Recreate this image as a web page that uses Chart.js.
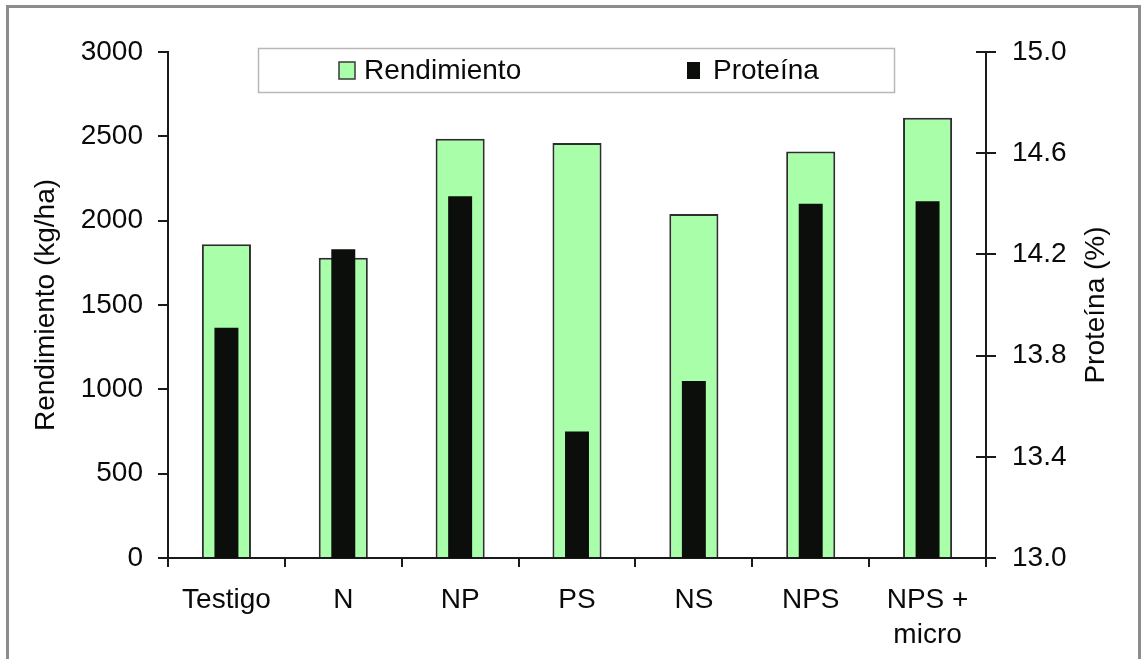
<!DOCTYPE html>
<html>
<head>
<meta charset="utf-8">
<script src="https://cdn.jsdelivr.net/npm/chart.js@4/dist/chart.umd.min.js"></script>
<style>
  html, body { margin: 0; padding: 0; background: #fff; }
  #wrap { position: relative; width: 1146px; height: 659px; overflow: hidden; }
  #frame { position: absolute; left: 6px; top: 5px; width: 1135px; height: 720px;
           border: 3px solid #8c8c8c; box-sizing: border-box; }
  #c { position: absolute; left: 0; top: 0; }
</style>
</head>
<body>
<div id="wrap">
  <div id="frame"></div>
  <canvas id="c" width="1146" height="659"></canvas>
</div>
<script>
// Treatments and measured results
const categories = ['Testigo', 'N', 'NP', 'PS', 'NS', 'NPS', ['NPS +', 'micro']];
const rendimiento = [1860, 1780, 2485, 2460, 2040, 2410, 2610];   // kg/ha
const proteina = [13.91, 14.22, 14.43, 13.50, 13.70, 14.40, 14.41]; // %

// Axis ranges and labels
const yieldRange = [0, 3000];
const yieldStep = 500;
const proteinRange = [13.0, 15.0];
const proteinStep = 0.4;
const yieldTitle = 'Rendimiento (kg/ha)';
const proteinTitle = 'Proteína (%)';
const seriesNames = ['Rendimiento', 'Proteína'];

const FONT = '"Liberation Sans", Arial, Helvetica, sans-serif';
const INK = '#0a0a0a';
const AXIS = '#1a1a1a';
const GREEN = '#a9ffa9';
const BLACK = '#0b0e0b';

// Right axis: ticks cross the axis line, title reads bottom-to-top
const rightAxisExtras = {
  id: 'rightAxisExtras',
  afterDraw(chart) {
    const ctx = chart.ctx;
    const s = chart.scales.y1;
    const x = s.left;
    ctx.save();
    ctx.strokeStyle = AXIS;
    ctx.lineWidth = 2;
    s.ticks.forEach(t => {
      const y = Math.round(s.getPixelForValue(t.value));
      ctx.beginPath();
      ctx.moveTo(x - 10, y);
      ctx.lineTo(x, y);
      ctx.stroke();
    });
    ctx.translate(1096, (s.top + s.bottom) / 2);
    ctx.rotate(-Math.PI / 2);
    ctx.font = '28px ' + FONT;
    ctx.fillStyle = INK;
    ctx.textAlign = 'center';
    ctx.textBaseline = 'middle';
    ctx.fillText(proteinTitle, 0, 0);
    ctx.restore();
  }
};

// Boxed legend floating over the top of the plot
const boxedLegend = {
  id: 'boxedLegend',
  afterDraw(chart) {
    const ctx = chart.ctx;
    ctx.save();
    ctx.strokeStyle = '#b8b8b8';
    ctx.lineWidth = 1.5;
    ctx.fillStyle = '#fff';
    ctx.fillRect(258, 48, 636, 44);
    ctx.strokeRect(258.5, 48.5, 636, 44);
    ctx.font = '28px ' + FONT;
    ctx.textBaseline = 'middle';
    ctx.textAlign = 'left';
    // Rendimiento swatch
    ctx.fillStyle = GREEN;
    ctx.fillRect(339, 62, 16, 17);
    ctx.strokeStyle = '#3a3a3a';
    ctx.lineWidth = 1.5;
    ctx.strokeRect(339, 62, 16, 17);
    ctx.fillStyle = INK;
    ctx.fillText(seriesNames[0], 364, 71);
    // Proteína swatch
    ctx.fillStyle = BLACK;
    ctx.fillRect(687, 62, 13, 17);
    ctx.fillStyle = INK;
    ctx.fillText(seriesNames[1], 713, 71);
    ctx.restore();
  }
};

const tickFont = { family: FONT, size: 28 };

new Chart(document.getElementById('c'), {
  type: 'bar',
  data: {
    labels: categories,
    datasets: [
      {
        label: seriesNames[1],
        data: proteina,
        yAxisID: 'y1',
        backgroundColor: BLACK,
        borderWidth: 0,
        barPercentage: 0.205,
        categoryPercentage: 1,
        order: 0
      },
      {
        label: seriesNames[0],
        data: rendimiento,
        yAxisID: 'y',
        backgroundColor: GREEN,
        borderColor: '#2e2e2e',
        borderWidth: 2,
        barPercentage: 0.42,
        categoryPercentage: 1,
        order: 1
      }
    ]
  },
  options: {
    responsive: false,
    devicePixelRatio: 1,
    animation: false,
    layout: { padding: { left: 0, right: 0, top: 52, bottom: 0 } },
    plugins: { legend: { display: false }, tooltip: { enabled: false } },
    datasets: { bar: { grouped: false } },
    scales: {
      x: {
        offset: true,
        grid: { offset: true, drawOnChartArea: false, tickLength: 9, color: AXIS, lineWidth: 2 },
        border: { color: AXIS, width: 2 },
        ticks: { font: { ...tickFont, lineHeight: 1.25 }, color: INK, padding: 16, maxRotation: 0, autoSkip: false },
        afterFit: s => { s.height = 101; }
      },
      y: {
        position: 'left',
        min: yieldRange[0],
        max: yieldRange[1],
        ticks: { stepSize: yieldStep, font: tickFont, color: INK, padding: 15,
                 callback: v => String(v) },
        grid: { drawOnChartArea: false, tickLength: 10, color: AXIS, lineWidth: 2 },
        border: { color: AXIS, width: 2 },
        title: { display: true, text: yieldTitle, font: tickFont, color: INK, padding: { top: 29, bottom: 0 } },
        afterFit: s => { s.width = 168; }
      },
      y1: {
        position: 'right',
        min: proteinRange[0],
        max: proteinRange[1],
        ticks: { stepSize: proteinStep, font: tickFont, color: INK, padding: 16,
                 callback: v => Number(v).toFixed(1) },
        grid: { drawOnChartArea: false, tickLength: 10, color: AXIS, lineWidth: 2 },
        border: { color: AXIS, width: 2 },
        afterFit: s => { s.width = 160; }
      }
    }
  },
  plugins: [rightAxisExtras, boxedLegend]
});
</script>
</body>
</html>
